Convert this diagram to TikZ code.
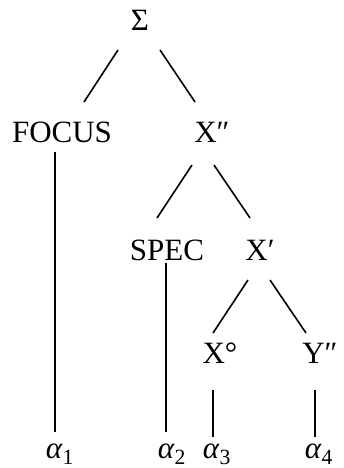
\documentclass[tikz,border=0pt]{standalone}
\usepackage{fontspec}
\setmainfont{Liberation Serif}
\newcommand{\alphsub}[1]{\textit{α}\textsubscript{#1}}
\begin{document}
\begin{tikzpicture}[x=1pt, y=-1pt,
        lbl/.style={inner sep=0pt, font=\fontsize{31}{37}\selectfont},
        edge/.style={line width=1.6pt}]
            \useasboundingbox (0,0) rectangle (344,468);
            % Labels
            \node[lbl] (sigma) at (140,20) {Σ};
            \node[lbl] (focus) at (62,132) {FOCUS};
            \node[lbl] (xpp) at (212,132) {X″};
            \node[lbl] (spec) at (167,250) {SPEC};
            \node[lbl] (xp) at (260,250) {X′};
            \node[lbl] (xo) at (220,353) {X°};
            \node[lbl] (ypp) at (320,353) {Y″};
            % Leaves
            \foreach \n/\x in {1/60, 2/172, 3/217, 4/319} {
                \node[lbl] (a\n) at (\x,454) {\alphsub{\n}};
            }
            % Branches
            \foreach \a/\sx/\sy/\b/\ex/\ey in {sigma/-22/30/focus/22/-30, sigma/20/30/xpp/-17/-30,
                xpp/-20/33/spec/-10/-32, xpp/2/33/xp/-10/-32, xp/-12/30/xo/-7/-20, xp/10/30/ypp/-14/-20,
                focus/-7/20/a1/-5/-22, spec/-1/13/a2/-6/-22, xo/-7/37/a3/-4/-17, ypp/-5/37/a4/-4/-17} {
                \draw[edge] ([shift={(\sx,\sy)}]\a.center) -- ([shift={(\ex,\ey)}]\b.center);
            }
        \end{tikzpicture}
\end{document}
